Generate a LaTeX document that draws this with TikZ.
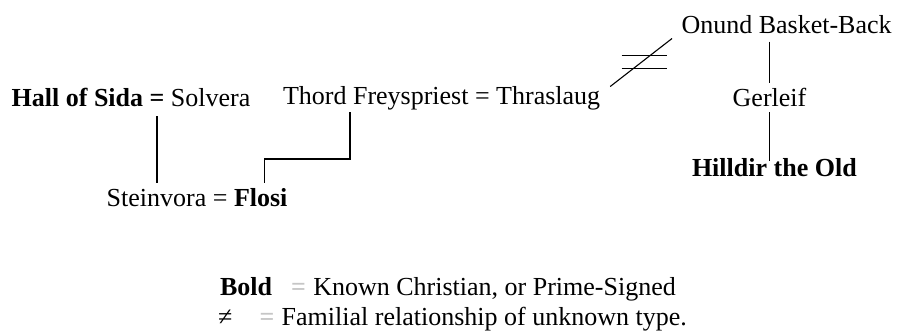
\documentclass[tikz,border=0pt]{standalone}
\usepackage{fontspec}
\setmainfont{Liberation Serif}
\usetikzlibrary{calc}
\begin{document}
\begin{tikzpicture}[x=1pt,y=-1pt,
  person/.style={anchor=base west, inner sep=0pt, outer sep=0pt,
    text height=18pt, text depth=5pt, font=\fontsize{26}{30}\selectfont},
  keymark/.style={person, text=gray!45},
  link/.style={line width=1.4pt, black},
  bar/.style={line width=1.6pt, black}]
\useasboundingbox (0,0) rectangle (897,330);

% first generation
\node[person] (hall) at (11.7,106) {\textbf{Hall of Sida}};
\node[person] (eqA) at ([xshift=6.5pt]hall.base east) {\textbf{=}};
\node[person] (solvera) at ([xshift=6.5pt]eqA.base east) {Solvera};
\node[person] (thord) at (283,104.5) {Thord Freyspriest};
\node[person] (eqB) at ([xshift=6.5pt]thord.base east) {=};
\node[person] (thraslaug) at ([xshift=6.5pt]eqB.base east) {Thraslaug};

% Onund's line
\node[person] (onund) at (681.5,33.5) {Onund Basket-Back};
\node[person] (gerleif) at (732.7,106) {Gerleif};
\node[person] (hilldir) at (692,176.7) {\textbf{Hilldir the Old}};

% second generation
\node[person] (steinvora) at (106.7,206.7) {Steinvora};
\node[person] (eqC) at ([xshift=6.5pt]steinvora.base east) {=};
\node[person] (flosi) at ([xshift=6.5pt]eqC.base east) {\textbf{Flosi}};

% descent lines
\draw[link] ($(eqA.south)+(0,5)$) -- ($(eqA.south |- steinvora.north)+(0,-6)$);
\draw[link] ($(thord.south west)+(67,2.5)$) |- ($(flosi.north)+(4,-29.7)$)
  -- ($(flosi.north)+(4,-6)$);
\draw[link] ($(onund.south -| gerleif.north)+(0,3)$) -- ($(gerleif.north)+(0,-5)$);
\draw[link] ($(gerleif.south)+(0,1)$) -- ($(gerleif.south |- hilldir.north)+(0,2)$);

% relationship of unknown type
\draw[link, line width=1.1pt] ($(thraslaug.north east)+(10,0)$) coordinate (ne1)
  -- ($(onund.south west)+(-9.5,0)$) coordinate (ne2);
\coordinate (neq) at ($(ne1)!0.5!(ne2)$);
\draw[bar] ($(neq)+(-19.5,-7)$) -- ($(neq)+(25.5,-7)$);
\draw[bar] ($(neq)+(-19.5,6)$) -- ($(neq)+(25.5,6)$);

% key
\node[person] (kbold) at (220,295) {\textbf{Bold}};
\node[keymark] (keq1) at (291,295) {\textbf{=}};
\node[person] (kchr) at (313.3,295) {Known Christian, or Prime-Signed};
\node[person] (kneq) at (218,325) {≠};
\node[keymark] (keq2) at (259.5,325) {\textbf{=}};
\node[person] (kfam) at (281.7,325) {Familial relationship of unknown type.};
\end{tikzpicture}
\end{document}
